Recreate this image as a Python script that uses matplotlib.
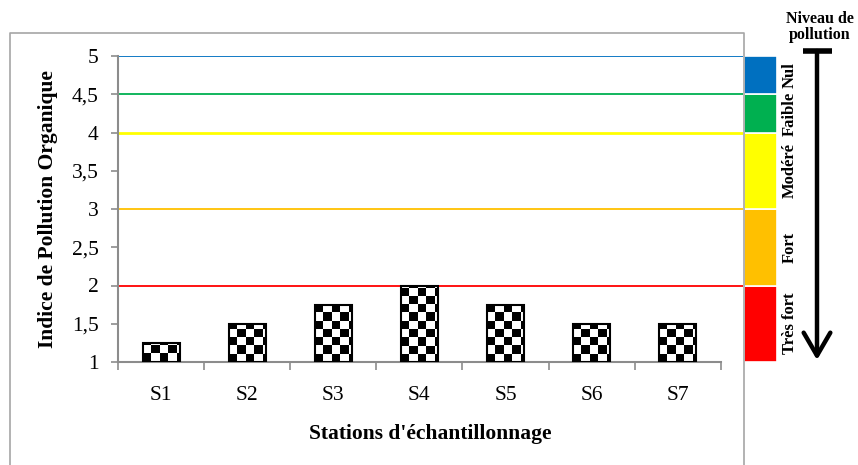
import matplotlib
matplotlib.use("Agg")
import matplotlib.pyplot as plt
import numpy as np
from matplotlib.patches import FancyArrowPatch
from matplotlib.lines import Line2D

plt.rcParams['font.family'] = ['Liberation Serif', 'DejaVu Serif']

# ---- data ----
stations = ["S1", "S2", "S3", "S4", "S5", "S6", "S7"]
ipo = [1.25, 1.5, 1.75, 2.0, 1.75, 1.5, 1.5]
y_ticks = [1, 1.5, 2, 2.5, 3, 3.5, 4, 4.5, 5]
y_tick_labels = ["1", "1,5", "2", "2,5", "3", "3,5", "4", "4,5", "5"]
threshold_values = [5, 4.5, 4, 3, 2]
threshold_colors = ["#0070C0", "#00B050", "#FFFF00", "#FFC000", "#FF0000"]
level_bottoms = [1, 2, 3, 4, 4.5]
level_tops = [2, 3, 4, 4.5, 5]
level_labels = ["Très fort", "Fort", "Modéré", "Faible", "Nul"]
level_colors = ["#FF0000", "#FFC000", "#FFFF00", "#00B050", "#0070C0"]

W, H = 858, 465
fig = plt.figure(figsize=(W / 100, H / 100), dpi=100)

def fx(px):
    return px / W

def fy(py):
    return 1 - py / H

gray = "#8c8c8c"

# outer frame (left, top, right)
fig.add_artist(Line2D([fx(10), fx(10), fx(743.5), fx(743.5)],
                      [fy(465), fy(33), fy(33), fy(465)],
                      color="#a6a6a6", lw=1.2, transform=fig.transFigure))

# main axes
left, right, top, bottom = 118, 743, 56, 362
ax = fig.add_axes([fx(left), fy(bottom), fx(right - left), (bottom - top) / H])
cat_w = 86.1
xlim = (-0.5, -0.5 + (right - left) / cat_w)
ylim = (1, 5)
px_per_x = cat_w
px_per_y = (bottom - top) / (ylim[1] - ylim[0])

for v, c in zip(threshold_values, threshold_colors):
    ax.axhline(v, color=c, lw=2.0 if c == "#FFFF00" else 1.3, zorder=2)

x = np.arange(len(stations))
bars = ax.bar(x, [v - 1 for v in ipo], bottom=1, width=0.43,
              facecolor="none", edgecolor="black", lw=1.5, zorder=4)

# checkerboard fill
cell = 8.2
for b in bars:
    x0, y0 = b.get_x(), b.get_y()
    w, h = b.get_width(), b.get_height()
    wp, hp = w * px_per_x, h * px_per_y
    ncol = int(np.ceil(wp / cell))
    nrow = int(np.ceil(hp / cell))
    img = (np.add.outer(np.arange(nrow), np.arange(ncol)) % 2).astype(float)
    xright = x0 + ncol * cell / px_per_x
    ytop = y0 + nrow * cell / px_per_y
    im = ax.imshow(img, cmap="gray", vmin=0, vmax=1, origin="lower",
                   extent=(x0, xright, y0, ytop), aspect="auto",
                   interpolation="nearest", zorder=3)
    im.set_clip_path(b)

ax.set_xlim(*xlim)
ax.set_ylim(*ylim)

ax.set_yticks(y_ticks)
ax.set_yticklabels(y_tick_labels, fontsize=15.5)
ax.set_xticks(x)
ax.set_xticklabels(stations, fontsize=15.5)
ax.set_xticks(np.arange(-0.5, len(stations), 1), minor=True)
ax.tick_params(axis="x", which="major", length=0, pad=17)
ax.tick_params(axis="x", which="minor", length=6, color=gray, width=1.2)
ax.tick_params(axis="y", length=5, color=gray, width=1.2, pad=9)

for s in ["top", "right"]:
    ax.spines[s].set_visible(False)
ax.spines["left"].set_color(gray)
ax.spines["bottom"].set_color(gray)
ax.spines["left"].set_linewidth(1.5)
ax.spines["bottom"].set_linewidth(1.5)
ax.spines["bottom"].set_bounds(-0.5, len(stations) - 0.5)

ax.set_ylabel("Indice de Pollution Organique", fontsize=15.5, fontweight="bold", labelpad=10)
ax.set_xlabel("Stations d'échantillonnage", fontsize=15.5, fontweight="bold", labelpad=14)

# level colour scale
ax2 = fig.add_axes([fx(744), fy(bottom), fx(777 - 744), (bottom - top) / H], sharey=ax)
ax2.set_xlim(0, 1)
ax2.bar([0.5] * len(level_labels), [t - b_ for t, b_ in zip(level_tops, level_bottoms)],
        bottom=level_bottoms, width=1.0, color=level_colors, edgecolor="white", lw=1.2)
ax2.axis("off")
for lab, b_, t in zip(level_labels, level_bottoms, level_tops):
    ax2.text(1.0 + (790 - 777) / 33, (b_ + t) / 2, lab, rotation=90, ha="center", va="center",
             fontsize=12, fontweight="bold", transform=ax2.transData, clip_on=False)

# arrow
fig.add_artist(Line2D([fx(803), fx(832)], [fy(51), fy(51)], color="black", lw=4,
                      transform=fig.transFigure, solid_capstyle="butt"))
arr = FancyArrowPatch((fx(817), fy(51)), (fx(817), fy(360)), transform=fig.transFigure,
                      arrowstyle="->,head_length=5.5,head_width=3.2", color="black", lw=3.2,
                      mutation_scale=3, shrinkA=0, shrinkB=0)
fig.add_artist(arr)

fig.text(fx(820), fy(27), "Niveau de\npollution", ha="center", va="center",
         fontsize=11.5, fontweight="bold", linespacing=1.05)

fig.savefig("out.png", dpi=100)
